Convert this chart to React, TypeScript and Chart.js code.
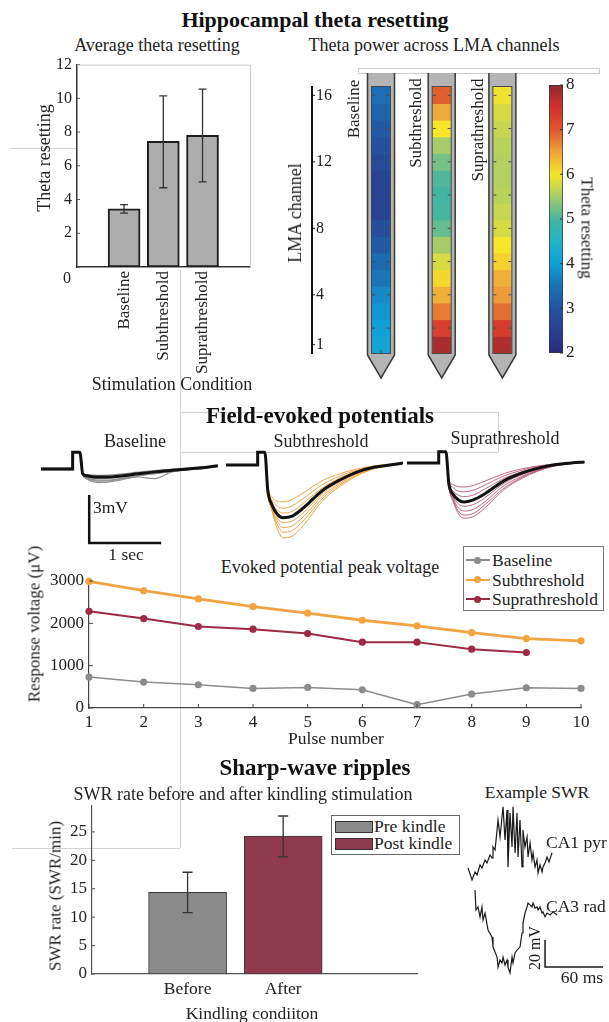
import React, { useEffect, useRef } from 'react';
import { Chart, registerables } from 'chart.js';
Chart.register(...registerables);

const SERIF = '"Liberation Serif", "Times New Roman", serif';
Chart.defaults.font.family = SERIF;
Chart.defaults.color = '#222';

// ---------------- data ----------------
const THETA_CONDITIONS = ['Baseline', 'Subthreshold', 'Suprathreshold'];
const THETA_POS = [1, 2, 3];
const THETA_MEAN = [3.45, 7.45, 7.8];
const THETA_ERR_LOW = [3.2, 4.7, 5.05];
const THETA_ERR_HIGH = [3.7, 10.15, 10.55];
const THETA_TICKS = [0, 2, 4, 6, 8, 10, 12];

const LMA_CHANNELS = [1, 2, 3, 4, 5, 6, 7, 8, 9, 10, 11, 12, 13, 14, 15, 16];
const LMA_TICKS = [1, 4, 8, 12, 16];
const PROBE_TICK_CHANNELS = [2, 4, 6, 8, 10, 12, 14, 16];
const PROBE_NAMES = ['Baseline', 'Subthreshold', 'Suprathreshold'];
const BASELINE_POWER = [4.1, 4.0, 3.9, 3.75, 3.55, 3.4, 3.1, 2.85, 2.6, 2.55, 2.6, 2.75, 2.9, 3.1, 3.3, 3.45];
const SUB_POWER = [7.8, 7.3, 6.75, 6.4, 6.1, 5.8, 5.5, 5.15, 5.0, 4.95, 5.05, 5.25, 5.5, 6.0, 6.45, 6.95];
const SUPRA_POWER = [7.75, 7.35, 6.85, 6.55, 6.4, 6.15, 6.0, 5.8, 5.7, 5.62, 5.58, 5.58, 5.62, 5.7, 5.8, 5.95];
const COLORBAR_TICKS = [2, 3, 4, 5, 6, 7, 8];
const CMAP_V = [2, 2.5, 3, 3.5, 4, 4.5, 5, 5.5, 6, 6.5, 7, 7.5, 8];
const CMAP_C = ['#2c2b78', '#2a3f90', '#23549f', '#1a71b6', '#10a0d8', '#22b2c8', '#48b59f', '#a6cc6a', '#f6e52a', '#eea23a', '#e0572e', '#d2302c', '#8f2a2e'];

// evoked potentials: time (s) and voltage (mV)
const EVOKED_T = [0, 0.44, 0.44, 0.54, 0.58, 0.64, 0.71, 0.79, 0.92, 1.07, 1.35, 1.58, 1.82, 2.07, 2.28, 2.46];
const BASE_MEAN = [0, 0, 1.05, 1.05, -0.3, -0.42, -0.48, -0.5, -0.5, -0.45, -0.3, -0.18, -0.08, 0.02, 0.1, 0.2];
const BASE_TRIALS = [
  [0.05, 0.05, 1.05, 1.05, -0.35, -0.55, -0.65, -0.7, -0.7, -0.62, -0.42, -0.28, -0.14, -0.02, 0.08, 0.18],
  [-0.05, -0.05, 1.05, 1.05, -0.38, -0.62, -0.78, -0.85, -0.82, -0.72, -0.5, -0.6, -0.18, -0.04, 0.06, 0.16],
  [0.02, 0.02, 1.05, 1.05, -0.25, -0.35, -0.38, -0.4, -0.38, -0.33, -0.2, -0.1, -0.02, 0.06, 0.12, 0.2],
  [-0.03, -0.03, 1.05, 1.05, -0.32, -0.48, -0.56, -0.6, -0.58, -0.52, -0.36, -0.22, -0.1, 0.0, 0.08, 0.18],
  [0.0, 0.0, 1.05, 1.05, -0.36, -0.58, -0.7, -0.76, -0.75, -0.66, -0.45, -0.3, -0.15, -0.03, 0.07, 0.17],
];
const SUB_MEAN = [0, 0, 0.8, 0.8, -1.56, -2.5, -3.06, -3.3, -3.2, -2.7, -1.56, -0.94, -0.44, -0.13, 0, 0.12];
const SUB_TRIALS = [
  [0, 0, 0.8, 0.8, -1.3, -2.0, -2.25, -2.3, -2.15, -1.75, -0.95, -0.55, -0.25, -0.05, 0.05, 0.12],
  [0, 0, 0.8, 0.8, -1.4, -2.2, -2.55, -2.7, -2.55, -2.1, -1.2, -0.7, -0.32, -0.08, 0.03, 0.12],
  [0, 0, 0.8, 0.8, -1.5, -2.35, -2.8, -3.0, -2.9, -2.4, -1.4, -0.82, -0.38, -0.1, 0.02, 0.12],
  [0, 0, 0.8, 0.8, -1.6, -2.6, -3.3, -3.6, -3.5, -3.0, -1.75, -1.05, -0.5, -0.15, 0, 0.1],
  [0, 0, 0.8, 0.8, -1.65, -2.7, -3.5, -3.9, -3.8, -3.25, -1.9, -1.15, -0.55, -0.18, -0.02, 0.1],
  [0, 0, 0.8, 0.8, -1.7, -2.8, -3.7, -4.2, -4.1, -3.5, -2.05, -1.25, -0.62, -0.2, -0.03, 0.1],
  [0, 0, 0.8, 0.8, -1.75, -2.9, -3.95, -4.55, -4.45, -3.8, -2.2, -1.35, -0.68, -0.22, -0.04, 0.1],
];
const SUPRA_MEAN = [0, 0, 0.7, 0.7, -1.3, -1.95, -2.3, -2.44, -2.3, -1.95, -1.1, -0.65, -0.32, -0.1, 0, 0.06];
const SUPRA_TRIALS = [
  [0, 0, 0.7, 0.7, -1.0, -1.35, -1.48, -1.5, -1.4, -1.15, -0.65, -0.38, -0.18, -0.05, 0.02, 0.06],
  [0, 0, 0.7, 0.7, -1.1, -1.55, -1.75, -1.8, -1.7, -1.4, -0.8, -0.47, -0.22, -0.07, 0.01, 0.06],
  [0, 0, 0.7, 0.7, -1.2, -1.75, -2.0, -2.1, -2.0, -1.65, -0.95, -0.56, -0.27, -0.08, 0, 0.06],
  [0, 0, 0.7, 0.7, -1.35, -2.1, -2.55, -2.7, -2.6, -2.2, -1.25, -0.75, -0.37, -0.12, -0.01, 0.05],
  [0, 0, 0.7, 0.7, -1.4, -2.2, -2.8, -3.0, -2.9, -2.45, -1.4, -0.85, -0.42, -0.14, -0.02, 0.05],
  [0, 0, 0.7, 0.7, -1.45, -2.3, -3.0, -3.25, -3.15, -2.65, -1.55, -0.93, -0.46, -0.15, -0.02, 0.05],
  [0, 0, 0.7, 0.7, -1.5, -2.4, -3.15, -3.45, -3.35, -2.85, -1.65, -1.0, -0.5, -0.17, -0.03, 0.05],
];
const SCALEBAR_T = [0.67, 0.67, 1.67];
const SCALEBAR_MV = [-1.625, -4.625, -4.625];

// evoked peak voltage
const PULSES = [1, 2, 3, 4, 5, 6, 7, 8, 9, 10];
const PEAK_BASELINE = [730, 613, 549, 462, 486, 431, 78, 330, 478, 462];
const PEAK_SUB = [2990, 2770, 2577, 2395, 2240, 2073, 1940, 1782, 1640, 1586];
const PEAK_SUPRA = [2286, 2113, 1925, 1862, 1759, 1556, 1556, 1390, 1311];
const PEAK_Y_TICKS = [0, 1000, 2000, 3000];
const PEAK_LEGEND = ['Baseline', 'Subthreshold', 'Suprathreshold'];

// SWR rate
const SWR_CONDITIONS = ['Before', 'After'];
const SWR_POS = [1, 2];
const SWR_RATE = [14.35, 24.25];
const SWR_ERR_LOW = [10.8, 20.6];
const SWR_ERR_HIGH = [17.9, 27.8];
const SWR_TICKS = [0, 5, 10, 15, 20, 25];
const SWR_LEGEND = ['Pre kindle', 'Post kindle'];

// example SWR (ms, mV)
const CA1_T = [8.3, 12.4, 15.5, 17.6, 20.7, 22.7, 25.9, 27.9, 31.0, 33.1, 34.1, 36.2, 38.3, 39.3, 41.4, 43.4, 44.5, 46.5, 48.6, 49.6, 51.7, 53.8, 54.8, 56.9, 58.9, 60.0, 62.0, 64.1, 65.1, 67.2, 69.3, 70.3, 72.4, 74.4, 75.5, 77.6, 79.6, 80.7, 82.7, 84.8, 85.8, 87.9, 90.0, 92.0, 95.1];
const CA1_MV = [86.7, 77.8, 83.7, 81.5, 88.9, 86.7, 92.6, 90.4, 96.3, 94.1, 102.2, 100, 114.8, 122.2, 109.6, 124.4, 131.9, 107.4, 129.6, 87.4, 127.4, 102.2, 131.9, 97.8, 127.4, 94.8, 122.2, 87.4, 114.8, 102.2, 109.6, 94.8, 105.2, 92.6, 97.8, 87.4, 92.6, 83, 88.9, 83.7, 87.4, 90.4, 94.8, 91.1, 97.8];
const CA3_T = [15.5, 16.5, 18.6, 20.7, 22.7, 23.8, 25.9, 29.0, 33.1, 34.1, 38.3, 39.3, 41.4, 43.4, 44.5, 46.5, 48.6, 49.6, 51.7, 53.8, 54.8, 56.9, 58.9, 62.0, 64.1, 65.1, 67.2, 69.3, 70.3, 72.4, 74.4, 75.5, 77.6, 79.6, 80.7, 82.7, 84.8, 85.8, 87.9, 90.0, 93.1, 96.2, 100.3];
const CA3_MV = [70.4, 55.6, 57.8, 50.4, 57.8, 48.1, 53.3, 40.7, 35.6, 28.1, 20.7, 13.3, 18.5, 16.3, 20.7, 14.8, 18.5, 13.3, 8.9, 20.7, 16.3, 23.7, 25.9, 28.1, 38.5, 45.9, 53.3, 57.8, 60.7, 59.3, 57.8, 60.7, 57.0, 57.8, 55.6, 57.8, 53.3, 54.1, 50.4, 53.3, 51.9, 54.1, 51.9];
const SWR_SCALE_T = [87.9, 87.9, 147.9];
const SWR_SCALE_MV = [33.3, 13.3, 13.3];

// ---------------- helpers ----------------
const pts = (xs: number[], ys: number[]) => ys.map((v, i) => ({ x: xs[i], y: v }));
const fix = (w?: number, h?: number) => (s: any) => {
  if (w !== undefined) s.width = w;
  if (h !== undefined) s.height = h;
};
const setTicks = (vals: number[]) => (s: any) => {
  s.ticks = vals.map((v) => ({ value: v }));
};
const font = (size: number) => ({ family: SERIF, size });
const plain = (v: number) => String(v);
const NOGRID = { display: false, drawTicks: false };

function hexRgb(h: string) {
  return [parseInt(h.slice(1, 3), 16), parseInt(h.slice(3, 5), 16), parseInt(h.slice(5, 7), 16)];
}
function cmap(v: number) {
  const n = CMAP_V.length;
  if (v <= CMAP_V[0]) return CMAP_C[0];
  if (v >= CMAP_V[n - 1]) return CMAP_C[n - 1];
  let i = 0;
  while (v > CMAP_V[i + 1]) i++;
  const t = (v - CMAP_V[i]) / (CMAP_V[i + 1] - CMAP_V[i]);
  const a = hexRgb(CMAP_C[i]);
  const b = hexRgb(CMAP_C[i + 1]);
  const c = a.map((av, k) => Math.round(av + (b[k] - av) * t));
  return `rgb(${c[0]},${c[1]},${c[2]})`;
}

const errBars = {
  id: 'errBars',
  afterDatasetsDraw(chart: any, _a: any, o: any) {
    if (!o || !o.xs) return;
    const { ctx, scales } = chart;
    ctx.save();
    ctx.strokeStyle = o.color;
    ctx.lineWidth = o.width;
    o.xs.forEach((xv: number, i: number) => {
      const px = scales.x.getPixelForValue(xv);
      const p1 = scales.y.getPixelForValue(o.lo[i]);
      const p2 = scales.y.getPixelForValue(o.hi[i]);
      ctx.beginPath();
      ctx.moveTo(px, p1); ctx.lineTo(px, p2);
      ctx.moveTo(px - o.cap, p1); ctx.lineTo(px + o.cap, p1);
      ctx.moveTo(px - o.cap, p2); ctx.lineTo(px + o.cap, p2);
      ctx.stroke();
    });
    ctx.restore();
  },
};

const inTicks = {
  id: 'inTicks',
  afterDatasetsDraw(chart: any, _a: any, o: any) {
    if (!o || o.len === undefined) return;
    const { ctx, chartArea: ca, scales } = chart;
    ctx.save();
    ctx.strokeStyle = o.color || '#333';
    ctx.lineWidth = 1;
    (o.x || []).forEach((v: number) => {
      const px = scales.x.getPixelForValue(v);
      ctx.beginPath(); ctx.moveTo(px, ca.bottom); ctx.lineTo(px, ca.bottom - o.len); ctx.stroke();
    });
    (o.y || []).forEach((v: number) => {
      const py = scales.y.getPixelForValue(v);
      const right = o.ySide === 'right';
      const edge = right ? ca.right : ca.left;
      ctx.beginPath(); ctx.moveTo(edge, py); ctx.lineTo(edge + (right ? -o.len : o.len), py); ctx.stroke();
    });
    ctx.restore();
  },
};

const boxLines = {
  id: 'boxLines',
  afterDraw(chart: any, _a: any, o: any) {
    if (!o || !o.color) return;
    const { ctx, chartArea: ca } = chart;
    ctx.save();
    ctx.strokeStyle = o.color;
    ctx.lineWidth = 1;
    ctx.beginPath();
    ctx.moveTo(ca.left, ca.top + 0.5); ctx.lineTo(ca.right + 0.5, ca.top + 0.5); ctx.lineTo(ca.right + 0.5, ca.bottom);
    ctx.stroke();
    ctx.restore();
  },
};

const probes = {
  id: 'probes',
  beforeDatasetsDraw(chart: any, _a: any, o: any) {
    if (!o || !o.positions) return;
    const { ctx, scales } = chart;
    const top = scales.y.getPixelForValue(o.max) - o.cap;
    const bot = scales.y.getPixelForValue(o.min) + 2;
    ctx.save();
    o.positions.forEach((p: number) => {
      const cx = scales.x.getPixelForValue(p);
      const hw = o.halfWidth;
      ctx.beginPath();
      ctx.moveTo(cx - hw, top); ctx.lineTo(cx + hw, top); ctx.lineTo(cx + hw, bot);
      ctx.lineTo(cx, bot + o.tip); ctx.lineTo(cx - hw, bot); ctx.closePath();
      ctx.fillStyle = '#b4b4b4';
      ctx.fill();
      ctx.beginPath();
      ctx.moveTo(cx - hw, top); ctx.lineTo(cx - hw, bot); ctx.lineTo(cx, bot + o.tip);
      ctx.lineTo(cx + hw, bot); ctx.lineTo(cx + hw, top);
      ctx.strokeStyle = '#3a3a3a';
      ctx.lineWidth = 1.5;
      ctx.stroke();
    });
    ctx.restore();
  },
  afterDatasetsDraw(chart: any, _a: any, o: any) {
    if (!o || !o.positions) return;
    const { ctx, scales } = chart;
    const t = scales.y.getPixelForValue(o.max);
    const b = scales.y.getPixelForValue(o.min);
    ctx.save();
    ctx.strokeStyle = '#4a4a4a';
    ctx.lineWidth = 1;
    o.positions.forEach((p: number) => {
      const cx = scales.x.getPixelForValue(p);
      const w = o.inner;
      ctx.strokeRect(cx - w - 0.5, t - 0.5, 2 * w + 1, b - t + 1);
      o.tickValues.forEach((v: number) => {
        const py = scales.y.getPixelForValue(v);
        ctx.beginPath();
        ctx.moveTo(cx - w, py); ctx.lineTo(cx - w + 3, py);
        ctx.moveTo(cx + w, py); ctx.lineTo(cx + w - 3, py);
        ctx.stroke();
      });
      ctx.beginPath(); ctx.moveTo(cx, b); ctx.lineTo(cx, b - 3); ctx.stroke();
    });
    ctx.restore();
  },
};

const noLegend = { legend: { display: false }, tooltip: { enabled: false } };

// ---------------- chart configs ----------------
function thetaConfig(): any {
  return {
    type: 'bar',
    data: {
      datasets: [{
        data: pts(THETA_POS, THETA_MEAN),
        backgroundColor: '#adadad', borderColor: '#1e1e1e', borderWidth: 2, borderSkipped: false, barThickness: 32,
      }],
    },
    plugins: [errBars, inTicks, boxLines],
    options: {
      responsive: false, animation: false,
      layout: { padding: { top: 14, right: 15, left: 0, bottom: 0 } },
      plugins: {
        ...noLegend,
        errBars: { xs: THETA_POS, lo: THETA_ERR_LOW, hi: THETA_ERR_HIGH, color: '#333', width: 1.3, cap: 4 },
        inTicks: { y: THETA_TICKS, len: 3, color: '#555' },
        boxLines: { color: '#c8c8c8' },
      },
      scales: {
        x: {
          type: 'linear', min: -0.2, max: 4.21, offset: false,
          afterBuildTicks: setTicks(THETA_POS), afterFit: fix(undefined, 113),
          grid: NOGRID, border: { display: true, color: '#333', width: 1.5 },
          ticks: { autoSkip: false, minRotation: 90, maxRotation: 90, padding: 4, font: font(17), color: '#222', callback: (v: number) => THETA_CONDITIONS[v - 1] },
        },
        y: {
          min: 0, max: 12, afterBuildTicks: setTicks(THETA_TICKS), afterFit: fix(37),
          grid: NOGRID, border: { display: true, color: '#333', width: 1.5 },
          ticks: { padding: 5, font: font(16), color: '#222', callback: (v: number) => (v === 0 ? '' : String(v)) },
        },
      },
    },
  };
}

function heatConfig(): any {
  const powers = [BASELINE_POWER, SUB_POWER, SUPRA_POWER];
  return {
    type: 'bar',
    data: {
      datasets: PROBE_NAMES.map((name, pi) => ({
        label: name,
        data: LMA_CHANNELS.map((c) => ({ x: pi + 1, y: [c - 0.5, c + 0.5] })),
        backgroundColor: powers[pi].map((v) => cmap(v)),
        borderWidth: 0, barThickness: 18, grouped: false,
      })),
    },
    plugins: [probes, inTicks],
    options: {
      responsive: false, animation: false,
      layout: { padding: { top: 27, right: 10, left: 0, bottom: 37 } },
      plugins: {
        ...noLegend,
        probes: { positions: [1, 2, 3], min: 0.5, max: 16.5, cap: 14, tip: 23, halfWidth: 13.5, inner: 9, tickValues: PROBE_TICK_CHANNELS },
        inTicks: { y: LMA_TICKS, len: 3, color: '#111' },
      },
      scales: {
        x: { type: 'linear', min: -0.137, max: 3.455, offset: false, display: false },
        y: {
          min: 0.5, max: 16.5, position: 'left', afterBuildTicks: setTicks(LMA_TICKS), afterFit: fix(32),
          grid: NOGRID, border: { display: true, color: '#111', width: 2 },
          ticks: { mirror: true, padding: 4, font: font(16), color: '#222', callback: plain },
        },
      },
    },
  };
}

function colorbarConfig(): any {
  const lo = CMAP_V[0];
  const hi = CMAP_V[CMAP_V.length - 1];
  return {
    type: 'bar',
    data: {
      labels: [''],
      datasets: [{
        data: [[lo, hi]],
        backgroundColor: (c: any) => {
          const ch = c.chart;
          if (!ch.chartArea) return CMAP_C[0];
          const y = ch.scales.y;
          const g = ch.ctx.createLinearGradient(0, y.getPixelForValue(lo), 0, y.getPixelForValue(hi));
          CMAP_V.forEach((v, i) => g.addColorStop((v - lo) / (hi - lo), CMAP_C[i]));
          return g;
        },
        borderColor: '#333', borderWidth: 1, borderSkipped: false, barPercentage: 1, categoryPercentage: 1,
      }],
    },
    plugins: [inTicks],
    options: {
      responsive: false, animation: false,
      layout: { padding: { top: 15, right: 0, left: 9, bottom: 17 } },
      plugins: { ...noLegend, inTicks: { y: COLORBAR_TICKS, len: 3, ySide: 'right', color: '#333' } },
      scales: {
        x: { display: false },
        y: {
          min: lo, max: hi, position: 'right', afterBuildTicks: setTicks(COLORBAR_TICKS), afterFit: fix(37),
          grid: NOGRID, border: { display: false },
          ticks: { padding: 3, font: font(17), color: '#222', callback: plain },
        },
      },
    },
  };
}

function traceDs(vals: number[], color: string, w: number) {
  return { data: pts(EVOKED_T, vals), borderColor: color, borderWidth: w, pointRadius: 0, cubicInterpolationMode: 'monotone', clip: false, fill: false };
}

function evokedConfig(mean: number[], trials: number[][], color: string, w: number, xmax: number, ymin: number, ymax: number, withBar: boolean): any {
  const datasets: any[] = [traceDs(mean, '#111', 3)];
  trials.forEach((t) => datasets.push(traceDs(t, color, w)));
  if (withBar) {
    datasets.unshift({ data: pts(SCALEBAR_T, SCALEBAR_MV), borderColor: '#111', borderWidth: 2.5, pointRadius: 0, tension: 0, clip: false, fill: false });
  }
  return {
    type: 'line',
    data: { datasets },
    options: {
      responsive: false, animation: false,
      layout: { padding: 0 },
      plugins: noLegend,
      scales: {
        x: { type: 'linear', min: 0, max: xmax, display: false },
        y: { min: ymin, max: ymax, display: false },
      },
    },
  };
}

function peakConfig(): any {
  const mk = (label: string, vals: number[], color: string, w: number) => ({
    label, data: pts(PULSES, vals), borderColor: color, backgroundColor: color, borderWidth: w,
    pointRadius: 3.6, pointBorderWidth: 0, pointBackgroundColor: color, clip: false, tension: 0,
  });
  return {
    type: 'line',
    data: {
      datasets: [
        mk(PEAK_LEGEND[0], PEAK_BASELINE, '#8c8c8c', 1.5),
        mk(PEAK_LEGEND[1], PEAK_SUB, '#f2a444', 2.8),
        mk(PEAK_LEGEND[2], PEAK_SUPRA, '#9c2a44', 2),
      ],
    },
    plugins: [inTicks],
    options: {
      responsive: false, animation: false,
      layout: { padding: { top: 21, right: 19, left: 0, bottom: 0 } },
      plugins: { ...noLegend, inTicks: { x: PULSES, y: PEAK_Y_TICKS, len: 4, color: '#444' } },
      scales: {
        x: {
          type: 'linear', min: 1, max: 10, offset: false, afterBuildTicks: setTicks(PULSES), afterFit: fix(undefined, 42),
          grid: NOGRID, border: { display: true, color: '#444', width: 1.2 },
          ticks: { padding: 4, font: font(17), color: '#222', maxRotation: 0, callback: plain },
        },
        y: {
          min: 0, max: 3000, afterBuildTicks: setTicks(PEAK_Y_TICKS), afterFit: fix(89),
          grid: NOGRID, border: { display: true, color: '#444', width: 1.2 },
          ticks: { padding: 5, font: font(17), color: '#222', callback: plain },
        },
      },
    },
  };
}

function swrConfig(): any {
  return {
    type: 'bar',
    data: {
      datasets: [{
        data: pts(SWR_POS, SWR_RATE),
        backgroundColor: ['#8a8a8a', '#8f3a4f'], borderColor: '#3a3a3a', borderWidth: 1, borderSkipped: false, barThickness: 78,
      }],
    },
    plugins: [errBars, inTicks],
    options: {
      responsive: false, animation: false,
      layout: { padding: { top: 15, right: 23, left: 0, bottom: 0 } },
      plugins: {
        ...noLegend,
        errBars: { xs: SWR_POS, lo: SWR_ERR_LOW, hi: SWR_ERR_HIGH, color: '#333', width: 1.3, cap: 5 },
        inTicks: { y: SWR_TICKS, len: 3, color: '#555' },
      },
      scales: {
        x: {
          type: 'linear', min: 0, max: 3.4, offset: false, afterBuildTicks: setTicks(SWR_POS), afterFit: fix(undefined, 31),
          grid: NOGRID, border: { display: true, color: '#555', width: 1.2 },
          ticks: { padding: 5, font: font(17.5), color: '#222', maxRotation: 0, callback: (v: number) => SWR_CONDITIONS[v - 1] },
        },
        y: {
          min: 0, max: 29.7, afterBuildTicks: setTicks(SWR_TICKS), afterFit: fix(62),
          grid: NOGRID, border: { display: true, color: '#555', width: 1.2 },
          ticks: { padding: 5, font: font(17), color: '#222', callback: plain },
        },
      },
    },
  };
}

function swrExampleConfig(): any {
  const ln = (xs: number[], ys: number[], w: number) => ({ data: pts(xs, ys), borderColor: '#1a1a1a', borderWidth: w, pointRadius: 0, tension: 0, clip: false, fill: false });
  return {
    type: 'line',
    data: { datasets: [ln(CA1_T, CA1_MV, 1.2), ln(CA3_T, CA3_MV, 1.2), ln(SWR_SCALE_T, SWR_SCALE_MV, 1.5)] },
    options: {
      responsive: false, animation: false,
      layout: { padding: { left: 5, top: 5, bottom: 5, right: 0 } },
      plugins: noLegend,
      scales: {
        x: { type: 'linear', min: 0, max: 154, display: false },
        y: { min: 0, max: 137, display: false },
      },
    },
  };
}

// ---------------- components ----------------
function ChartBox({ left, top, width, height, make }: { left: number; top: number; width: number; height: number; make: () => any }) {
  const ref = useRef<HTMLCanvasElement>(null);
  useEffect(() => {
    const c = new Chart(ref.current as HTMLCanvasElement, make());
    return () => c.destroy();
  }, []);
  return <canvas ref={ref} width={width} height={height} style={{ position: 'absolute', left, top, width, height }} />;
}

function Label({ x, y, size = 17, bold = false, rot = 0, align = 'center', color = '#222', children }: any) {
  const tx = align === 'center' ? '-50%' : align === 'left' ? '0%' : '-100%';
  return (
    <div style={{
      position: 'absolute', left: x, top: y, transform: `translate(${tx},-50%) rotate(${rot}deg)`,
      fontFamily: SERIF, fontSize: size, fontWeight: bold ? 700 : 400, color, whiteSpace: 'nowrap', lineHeight: 1,
    }}>{children}</div>
  );
}

function Line({ x, y, w, h, color = '#d2d2d2' }: any) {
  return <div style={{ position: 'absolute', left: x, top: y, width: w, height: h, background: color }} />;
}

const PEAK_COLORS = ['#8c8c8c', '#f2a444', '#9c2a44'];
const SWR_COLORS = ['#8a8a8a', '#8f3a4f'];

export default function App() {
  return (
    <div style={{ position: 'absolute', left: 0, top: 0, width: 609, height: 1022, background: '#fff', overflow: 'hidden' }}>
      {/* faint panel frame artifacts */}
      <Line x={10} y={148} w={67} h={1} />
      <Line x={180} y={270} w={1} h={578} />
      <Line x={12} y={848} w={168} h={1} />
      <Line x={180} y={412} w={318} h={1} />
      <Line x={180} y={452} w={318} h={1} />
      <Line x={498} y={412} w={1} h={40} />
      <div style={{ position: 'absolute', left: 358, top: 68, width: 240, height: 4, border: '1px solid #cfcfcf' }} />

      <Label x={315} y={20} size={22} bold color="#111">Hippocampal theta resetting</Label>

      {/* theta bar chart */}
      <Label x={157} y={45} size={18}>Average theta resetting</Label>
      <ChartBox left={40} top={50} width={225} height={330} make={thetaConfig} />
      <Label x={44} y={158} size={18} rot={-90}>Theta resetting</Label>
      <Label x={67} y={278} size={16}>0</Label>
      <Label x={172} y={384} size={18}>Stimulation Condition</Label>

      {/* LMA heat map */}
      <Label x={434} y={45} size={18}>Theta power across LMA channels</Label>
      <ChartBox left={280} top={60} width={260} height={330} make={heatConfig} />
      <Label x={295} y={213} size={18} rot={-90}>LMA channel</Label>
      <Label x={353} y={109} size={17} rot={-90}>{PROBE_NAMES[0]}</Label>
      <Label x={415} y={123} size={17} rot={-90}>{PROBE_NAMES[1]}</Label>
      <Label x={477} y={130} size={17} rot={-90}>{PROBE_NAMES[2]}</Label>
      <ChartBox left={540} top={70} width={60} height={300} make={colorbarConfig} />
      <Label x={587} y={228} size={17} rot={90}>Theta resetting</Label>

      {/* evoked potentials */}
      <Label x={320} y={415} size={23} bold color="#111">Field-evoked potentials</Label>
      <Label x={135} y={441} size={18}>Baseline</Label>
      <Label x={321} y={441} size={18}>Subthreshold</Label>
      <Label x={505} y={438} size={18}>Suprathreshold</Label>
      <ChartBox left={41} top={448} width={177} height={100}
        make={() => evokedConfig(BASE_MEAN, BASE_TRIALS, '#8f8f8f', 1.2, 2.46, -4.9375, 1.3125, true)} />
      <ChartBox left={226} top={448} width={177} height={100}
        make={() => evokedConfig(SUB_MEAN, SUB_TRIALS, '#efa445', 1, 2.46, -5.1875, 1.0625, false)} />
      <ChartBox left={407} top={448} width={181} height={100}
        make={() => evokedConfig(SUPRA_MEAN, SUPRA_TRIALS, '#b04464', 0.8, 2.51, -5.3125, 0.9375, false)} />
      <Label x={93} y={508} size={17.5} align="left">3mV</Label>
      <Label x={126} y={555} size={17.5}>1 sec</Label>

      {/* peak voltage line chart */}
      <Label x={330} y={567} size={18}>Evoked potential peak voltage</Label>
      <ChartBox left={0} top={560} width={600} height={190} make={peakConfig} />
      <Label x={34} y={624} size={17} rot={-90}>Response voltage (μV)</Label>
      <Label x={336} y={739} size={17.5}>Pulse number</Label>
      <div style={{ position: 'absolute', left: 463, top: 546, width: 139, height: 63, border: '1px solid #777', background: '#fff' }}>
        {PEAK_LEGEND.map((name, i) => (
          <div key={name} style={{ position: 'absolute', left: 0, top: 4 + i * 19.5, height: 18, width: 139 }}>
            <div style={{ position: 'absolute', left: 2, top: 8, width: 24, height: 2, background: PEAK_COLORS[i] }} />
            <div style={{ position: 'absolute', left: 10, top: 5.5, width: 7, height: 7, borderRadius: '50%', background: PEAK_COLORS[i] }} />
            <div style={{ position: 'absolute', left: 28, top: 0, fontFamily: SERIF, fontSize: 17.5, lineHeight: '18px', color: '#222', whiteSpace: 'nowrap' }}>{name}</div>
          </div>
        ))}
      </div>

      {/* sharp-wave ripples */}
      <Label x={315} y={767} size={23} bold color="#111">Sharp-wave ripples</Label>
      <Label x={243} y={794} size={18}>SWR rate before and after kindling stimulation</Label>
      <ChartBox left={30} top={790} width={410} height={215} make={swrConfig} />
      <Label x={55} y={896} size={17} rot={-90}>SWR rate (SWR/min)</Label>
      <Label x={252} y={1014} size={17.5}>Kindling condiiton</Label>
      <div style={{ position: 'absolute', left: 331, top: 815, width: 127, height: 38, border: '1px solid #666', background: '#fff' }}>
        {SWR_LEGEND.map((name, i) => (
          <div key={name} style={{ position: 'absolute', left: 0, top: 2 + i * 17, height: 17, width: 127 }}>
            <div style={{ position: 'absolute', left: 3, top: 3, width: 36, height: 10, background: SWR_COLORS[i], border: '1px solid #333' }} />
            <div style={{ position: 'absolute', left: 42, top: 0, fontFamily: SERIF, fontSize: 17.5, lineHeight: '17px', color: '#222', whiteSpace: 'nowrap' }}>{name}</div>
          </div>
        ))}
      </div>

      {/* example SWR */}
      <Label x={537} y={793} size={17.5}>Example SWR</Label>
      <ChartBox left={455} top={795} width={154} height={195} make={swrExampleConfig} />
      <Label x={546} y={843} size={17.5} align="left">CA1 pyr</Label>
      <Label x={546} y={907} size={17.5} align="left">CA3 rad</Label>
      <Label x={535} y={948} size={16} rot={-90}>20 mV</Label>
      <Label x={582} y={978} size={17.5}>60 ms</Label>
    </div>
  );
}
